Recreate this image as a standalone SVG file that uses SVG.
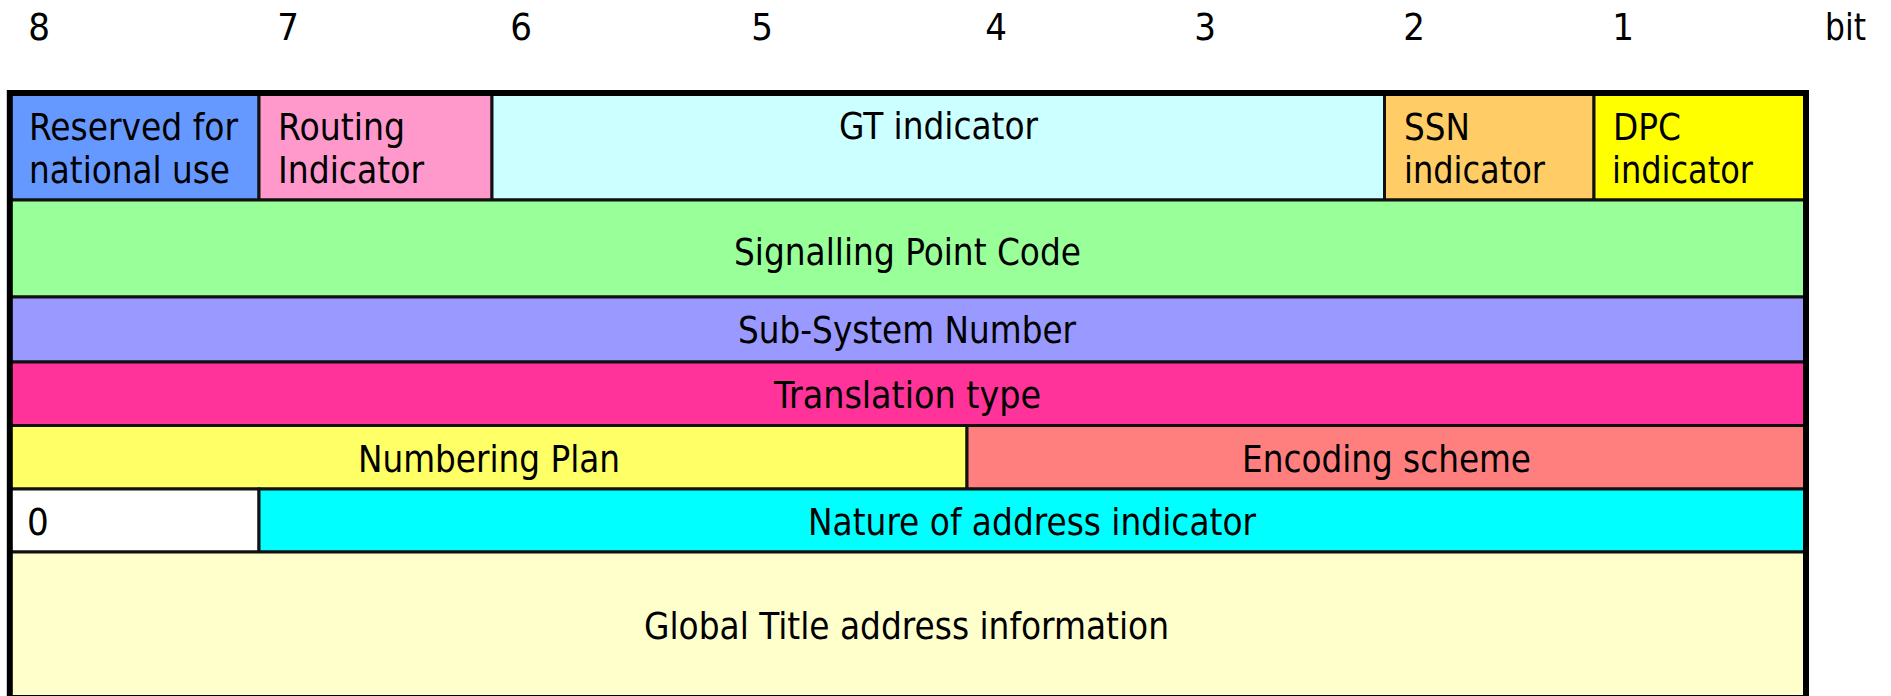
<svg xmlns="http://www.w3.org/2000/svg" width="1891" height="696" viewBox="0 0 1891 696">
<style>
.c{stroke:#111;stroke-width:3}
.t{font-family:'DejaVu Sans Condensed','DejaVu Sans',sans-serif;font-size:38px;fill:#000}
.m{text-anchor:middle}
</style>
<rect width="1891" height="696" fill="#fff"/>
<g id="bit-labels">
<text class="t m" x="39" y="40">8</text>
<text class="t m" x="288" y="40">7</text>
<text class="t m" x="521" y="40">6</text>
<text class="t m" x="762" y="40">5</text>
<text class="t m" x="996" y="40">4</text>
<text class="t m" x="1205" y="40">3</text>
<text class="t m" x="1414" y="40">2</text>
<text class="t m" x="1623" y="40">1</text>
<text class="t" x="1825" y="40" textLength="41" lengthAdjust="spacingAndGlyphs">bit</text>
</g>
<g id="reserved">
<rect class="c" x="10" y="93" width="249" height="107" fill="#6699FF"/>
<text class="t" x="29" y="140" textLength="209" lengthAdjust="spacingAndGlyphs">Reserved for</text>
<text class="t" x="29" y="183" textLength="201" lengthAdjust="spacingAndGlyphs">national use</text>
</g>
<g id="routing">
<rect class="c" x="259" y="93" width="233" height="107" fill="#FF99CC"/>
<text class="t" x="278" y="140" textLength="127" lengthAdjust="spacingAndGlyphs">Routing</text>
<text class="t" x="278" y="183" textLength="146" lengthAdjust="spacingAndGlyphs">Indicator</text>
</g>
<g id="gt">
<rect class="c" x="492" y="93" width="892.5" height="107" fill="#CCFFFF"/>
<text class="t" x="839" y="139" textLength="199" lengthAdjust="spacingAndGlyphs">GT indicator</text>
</g>
<g id="ssn-ind">
<rect class="c" x="1384.5" y="93" width="209.5" height="107" fill="#FFCC66"/>
<text class="t" x="1404" y="140" textLength="66" lengthAdjust="spacingAndGlyphs">SSN</text>
<text class="t" x="1404" y="183" textLength="141" lengthAdjust="spacingAndGlyphs">indicator</text>
</g>
<g id="dpc-ind">
<rect class="c" x="1594" y="93" width="212" height="107" fill="#FFFF00"/>
<text class="t" x="1613" y="140" textLength="68" lengthAdjust="spacingAndGlyphs">DPC</text>
<text class="t" x="1612" y="183" textLength="141" lengthAdjust="spacingAndGlyphs">indicator</text>
</g>
<g id="spc">
<rect class="c" x="10" y="200" width="1796" height="97" fill="#99FF99"/>
<text class="t" x="734" y="265" textLength="347" lengthAdjust="spacingAndGlyphs">Signalling Point Code</text>
</g>
<g id="ssn">
<rect class="c" x="10" y="297" width="1796" height="65" fill="#9999FF"/>
<text class="t" x="738" y="343" textLength="338" lengthAdjust="spacingAndGlyphs">Sub-System Number</text>
</g>
<g id="tt">
<rect class="c" x="10" y="362" width="1796" height="63.5" fill="#FF3399"/>
<text class="t" x="774" y="408" textLength="267" lengthAdjust="spacingAndGlyphs">Translation type</text>
</g>
<g id="np">
<rect class="c" x="10" y="425.5" width="957" height="63.5" fill="#FFFF66"/>
<text class="t" x="358" y="472" textLength="262" lengthAdjust="spacingAndGlyphs">Numbering Plan</text>
</g>
<g id="es">
<rect class="c" x="967" y="425.5" width="839" height="63.5" fill="#FF7F7F"/>
<text class="t" x="1242" y="472" textLength="289" lengthAdjust="spacingAndGlyphs">Encoding scheme</text>
</g>
<g id="zero">
<rect class="c" x="10" y="489" width="249" height="63" fill="#FFFFFF"/>
<text class="t" x="27" y="535">0</text>
</g>
<g id="nai">
<rect class="c" x="259" y="489" width="1547" height="63" fill="#00FFFF"/>
<text class="t" x="808" y="535" textLength="448" lengthAdjust="spacingAndGlyphs">Nature of address indicator</text>
</g>
<g id="gtai">
<rect class="c" x="10" y="552" width="1796" height="146" fill="#FFFFCC"/>
<text class="t" x="644" y="639" textLength="525" lengthAdjust="spacingAndGlyphs">Global Title address information</text>
</g>
<rect id="frame" x="9.8" y="93" width="1796.2" height="605" fill="none" stroke="#000" stroke-width="6"/>
</svg>
